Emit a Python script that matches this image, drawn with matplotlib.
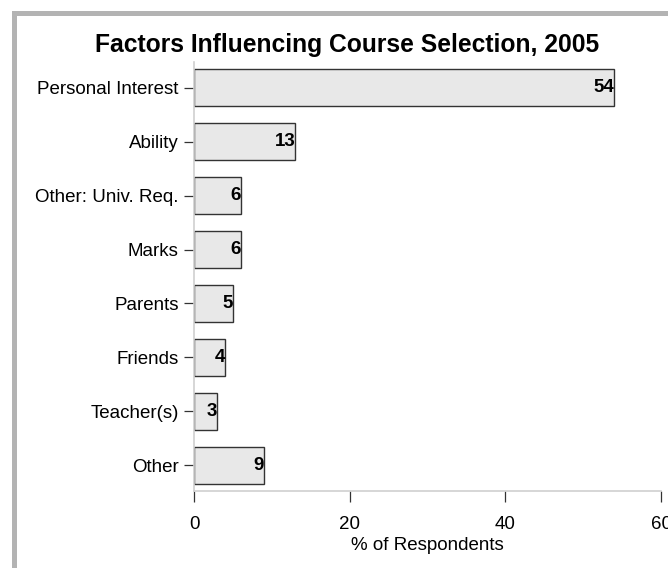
import matplotlib
matplotlib.use("Agg")
import matplotlib.pyplot as plt
from matplotlib.patches import Rectangle

categories = ["Personal Interest", "Ability", "Other: Univ. Req.", "Marks",
              "Parents", "Friends", "Teacher(s)", "Other"]
values = [54, 13, 6, 6, 5, 4, 3, 9]
xticks = [0, 20, 40, 60]
title = "Factors Influencing Course Selection, 2005"
xlabel = "% of Respondents"

plt.rcParams['font.family'] = ['Liberation Sans', 'DejaVu Sans']

W, H = 668, 568
fig = plt.figure(figsize=(W / 100, H / 100), dpi=100)
fig.patch.set_facecolor('white')

# outer grey frame (cut off at right/bottom)
fig.patches.append(Rectangle((13.5 / W, -0.1), 1.2, 1 - 13 / H + 0.1,
                             transform=fig.transFigure, fill=False,
                             edgecolor='#b3b3b3', linewidth=3.6, zorder=0))

ax = fig.add_axes([194 / W, 1 - 491 / H, (661 - 194) / W, (491 - 62) / H])
ypos = list(range(len(categories)))
ax.barh(ypos, values, height=0.69, color='#e8e8e8', edgecolor='#333333',
        linewidth=1.0, zorder=2)
for y, v in zip(ypos, values):
    ax.text(v, y, str(v), ha='right', va='center', fontsize=13.5,
            fontweight='bold', color='black', zorder=3)

ax.set_xlim(0, 60)
ax.set_ylim(7.48, -0.48)
ax.set_yticks(ypos)
ax.set_yticklabels(categories, fontsize=13.5)
ax.set_xticks(xticks)
ax.set_xticklabels([str(t) for t in xticks], fontsize=13.5)
ax.set_xlabel(xlabel, fontsize=13.5, labelpad=3)

for s in ['top', 'right']:
    ax.spines[s].set_visible(False)
for s in ['left', 'bottom']:
    ax.spines[s].set_color('#d0d0d0')
    ax.spines[s].set_linewidth(1.2)
ax.tick_params(axis='y', length=7.5, width=0.9, color='#333333', pad=3.5)
ax.tick_params(axis='x', length=8, width=0.9, color='#333333', pad=10)

fig.text(347 / W, 1 - 45 / H, title, ha='center', va='center',
         fontsize=17.7, fontweight='bold')

fig.savefig("out.png", dpi=100)
